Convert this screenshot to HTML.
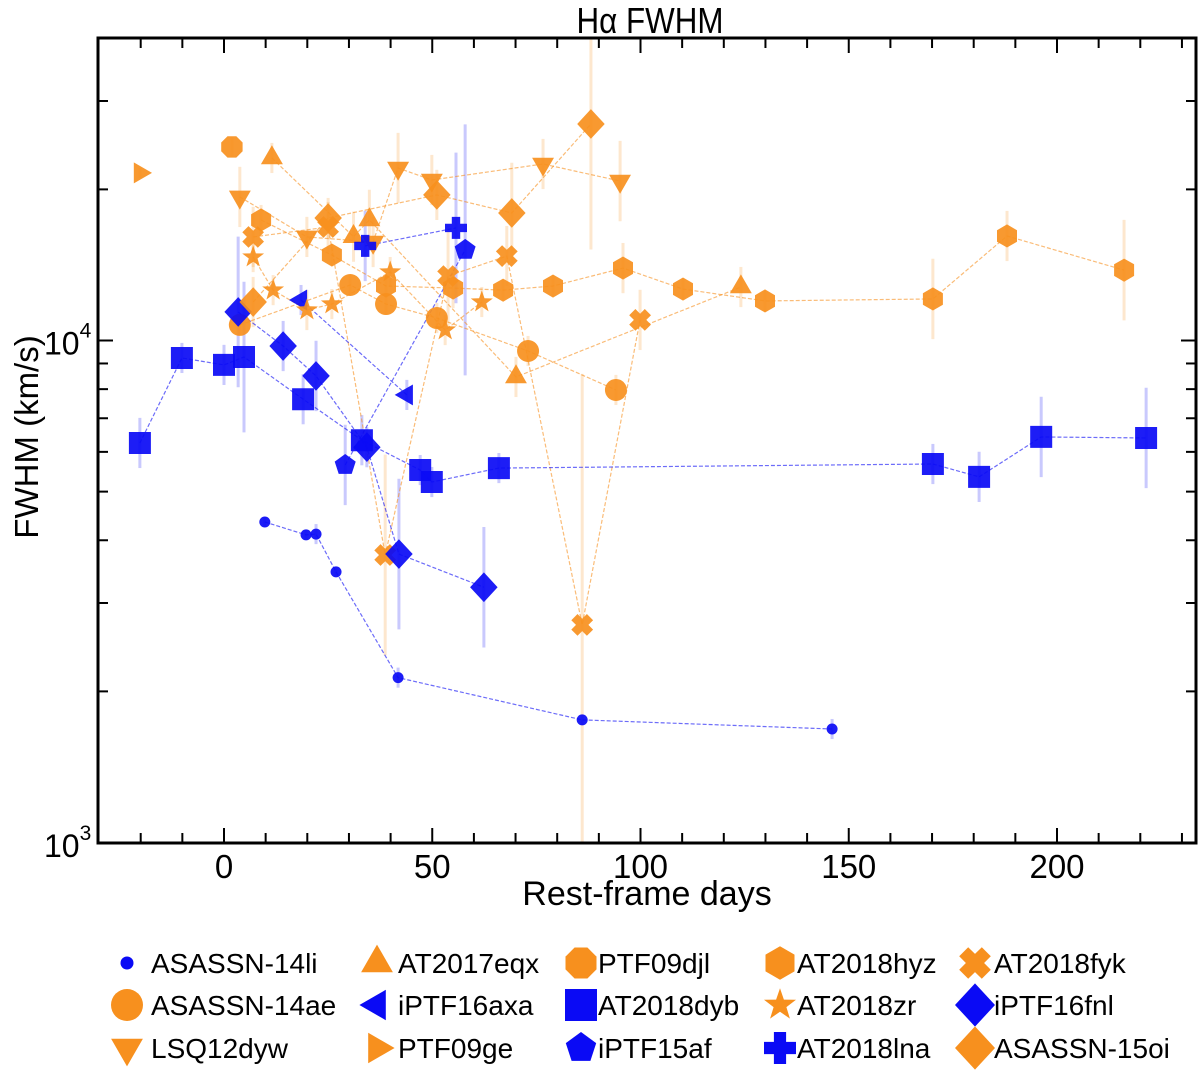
<!DOCTYPE html>
<html><head><meta charset="utf-8"><style>
html,body{margin:0;padding:0;background:#fff;}
svg{display:block;font-family:"Liberation Sans",Arial,sans-serif;}
</style></head><body>
<svg id="chart" width="1200" height="1081" viewBox="0 0 1200 1081" xmlns="http://www.w3.org/2000/svg">
<g id="errs"></g>
<g id="lines"></g>
<g id="marks"></g>
<g id="axes"></g>
<g id="legend"></g>
<text x="650" y="30" font-size="33" text-anchor="middle" transform="translate(650,0) scale(0.95,1.1) translate(-650,0)">Hα FWHM</text>
<text x="647" y="905" font-size="34" text-anchor="middle">Rest-frame days</text>
<text transform="translate(38,437) rotate(-90)" font-size="33" text-anchor="middle">FWHM (km/s)</text>
</svg>
<script>
const names = ["ASASSN-14li","AT2017eqx","PTF09djl","AT2018hyz","AT2018fyk","ASASSN-14ae","iPTF16axa","AT2018dyb","AT2018zr","iPTF16fnl","LSQ12dyw","PTF09ge","iPTF15af","AT2018lna","ASASSN-15oi"];
const colors = ["b","o","o","o","o","o","b","b","o","b","o","o","b","b","o"];
const shapes = ["dot","tri","oct","hex","x","circ","ltri","sq","star","dia","dtri","rtri","pent","plus","dia"];
const days = [
 [9.8,19.7,22.1,26.9,41.8,86,146],
 [11.5,31.1,34.9,70.1,124.1],
 [1.9],
 [8.9,25.9,38.9,55.0,67.0,79.0,95.8,110.2,129.9,170.2,188.0,216.1],
 [7.0,25.0,38.7,53.8,67.9,86.0,99.9],
 [3.8,30.3,38.9,51.1,73.0,94.1],
 [18.5,43.9],
 [-20.2,-10.1,0,4.8,19.0,33.1,47.1,49.9,66.0,170.2,181.3,196.2,221.4],
 [7.0,11.8,19.9,25.9,39.9,53.1,61.9],
 [3.4,14.2,22.1,34.3,42.0,62.4],
 [3.8,19.9,35.8,41.8,49.9,76.6,95.1],
 [-20.2],
 [29.1,57.9],
 [33.9,55.7],
 [7.0,25.0,51.1,69.1,88.1]
];
const fwhm = [
 [4350,4100,4115,3460,2130,1755,1683],
 [23100,16100,17390,8460,12780],
 [24300],
 [17380,14800,12840,12720,12600,12840,13940,12660,11990,12100,16150,13810],
 [16080,16830,3738,13440,14730,2713,10990],
 [10740,12900,11820,11085,9530,7970],
 [12040,7790],
 [6250,9230,8940,9270,7640,6330,5520,5225,5570,5675,5350,6425,6395],
 [14660,12600,11500,11820,13690,10490,11930],
 [11400,9750,8500,6130,3755,3225],
 [19320,16080,15710,22060,20880,22470,20780],
 [21570],
 [5650,15150],
 [15430,16760],
 [11930,17540,19500,17950,27000]
];
// symmetric errors in dex
const errDex = [
 [0.01,0.01,0.02,0.01,0.02,0.01,0.02],
 [0.03,0.05,0.06,0.04,0.04],
 [0.02],
 [0.03,0.02,0.02,0.04,0.02,0.02,0.05,0.02,0.02,0.08,0.05,0.1],
 [0.06,0.05,0.2,0.1,0.06,0.5,0.06],
 [0.02,0.02,0.02,0.03,0.03,0.03],
 [0.03,0.03],
 [0.05,0.03,0.04,0.15,0.05,0.05,0.03,0.03,0.03,0.04,0.05,0.08,0.1],
 [0.03,0.03,0.04,0.03,0.03,0.03,0.03],
 [0.15,0.05,0.07,0.04,0.15,0.12],
 [0.06,0.04,0.05,0.07,0.05,0.05,0.08],
 [0.01],
 [0.08,0.25],
 [0.07,0.15],
 [0.05,0.04,0.05,0.1,0.25]
];
const xTicks = [0,50,100,150,200];
const COL = {b:"#0a0af5", o:"#f7901e"};
const X0=224, XS=4.165, Y4=340.5, DEC=502;
function sx(d){return X0+XS*d;}
function sy(v){return Y4-(Math.log10(v)-4)*DEC;}
const NS="http://www.w3.org/2000/svg";
function el(tag,attrs,parent){const e=document.createElementNS(NS,tag);for(const k in attrs)e.setAttribute(k,attrs[k]);parent.appendChild(e);return e;}
function markerPath(shape,x,y,r){
  const p=(pts)=>"M"+pts.map(q=>q[0].toFixed(1)+","+q[1].toFixed(1)).join("L")+"Z";
  const poly=(n,rot,rr)=>{const a=[];for(let i=0;i<n;i++){const t=rot+i*2*Math.PI/n;a.push([x+rr*Math.cos(t),y+rr*Math.sin(t)]);}return p(a);};
  switch(shape){
    case "tri": return poly(3,-Math.PI/2,r*1.15);
    case "dtri": return poly(3,Math.PI/2,r*1.15);
    case "ltri": return poly(3,Math.PI,r*1.1);
    case "rtri": return poly(3,0,r*1.1);
    case "sq": return p([[x-r,y-r],[x+r,y-r],[x+r,y+r],[x-r,y+r]]);
    case "dia": return p([[x,y-r*1.35],[x+r*1.25,y],[x,y+r*1.35],[x-r*1.25,y]]);
    case "hex": return poly(6,-Math.PI/2,r*1.05);
    case "oct": return poly(8,Math.PI/8,r*1.05);
    case "pent": return poly(5,-Math.PI/2,r);
    case "star": {const a=[];for(let i=0;i<10;i++){const t=-Math.PI/2+i*Math.PI/5;const rr=i%2?r*0.42:r*1.05;a.push([x+rr*Math.cos(t),y+rr*Math.sin(t)]);}return p(a);}
    case "plus": {const w=r*0.38;return p([[x-w,y-r],[x+w,y-r],[x+w,y-w],[x+r,y-w],[x+r,y+w],[x+w,y+w],[x+w,y+r],[x-w,y+r],[x-w,y+w],[x-r,y+w],[x-r,y-w],[x-w,y-w]]);}
    case "x": {const w=r*0.4;const base=[[-w,-r],[w,-r],[w,-w],[r,-w],[r,w],[w,w],[w,r],[-w,r],[-w,w],[-r,w],[-r,-w],[-w,-w]];const c=Math.SQRT1_2;return p(base.map(q=>[x+(q[0]-q[1])*c,y+(q[0]+q[1])*c]));}
    default: return null;
  }
}
function drawMarker(parent,shape,x,y,r,fill){
  let m;
  if(shape==="dot"||shape==="circ"){m=el("circle",{cx:x,cy:y,r:shape==="dot"?r*0.5:r,fill:fill},parent);}
  else m=el("path",{d:markerPath(shape,x,y,r),fill:fill},parent);
  return m;
}
const errs=document.getElementById("errs"),lines=document.getElementById("lines"),marks=document.getElementById("marks");
for(let s=0;s<names.length;s++){
  const c=COL[colors[s]];
  const pts=days[s].map((d,i)=>[sx(d),sy(fwhm[s][i])]);
  days[s].forEach((d,i)=>{
    const lv=Math.log10(fwhm[s][i]);
    const y1=Math.min(843,sy(Math.pow(10,lv-errDex[s][i]))), y2=Math.max(38,sy(Math.pow(10,lv+errDex[s][i])));
    const e=el("line",{x1:sx(d),x2:sx(d),y1:y1,y2:y2,stroke:c,"stroke-opacity":0.22,"stroke-width":3},errs);
    
    
  });
  if(pts.length>1){
    const l=el("polyline",{points:pts.map(q=>q.join(",")).join(" "),fill:"none",stroke:c,"stroke-opacity":0.6,"stroke-width":1.2,"stroke-dasharray":"4,2"},lines);
    
    
  }
  pts.forEach(q=>{
    const m=drawMarker(marks,shapes[s],q[0],q[1],11,c);
    m.setAttribute("fill-opacity","0.92");
    
    
  });
}
// axes
const ax=document.getElementById("axes");
el("rect",{x:98,y:38,width:1098,height:805,fill:"none",stroke:"#000","stroke-width":3},ax);
for(let d=-20;d<=230;d+=10){
  const x=sx(d),len=(d%50===0)?15:10;
  el("line",{x1:x,x2:x,y1:843,y2:843-len,stroke:"#000","stroke-width":2},ax);
  el("line",{x1:x,x2:x,y1:38,y2:38+len,stroke:"#000","stroke-width":2},ax);
}
xTicks.forEach(d=>{
  const t=el("text",{x:sx(d),y:878,"font-size":33,"text-anchor":"middle"},ax);t.textContent=d;
  
  
});
[2000,3000,4000,5000,6000,7000,8000,9000,10000,20000,30000,40000].forEach(v=>{
  const y=sy(v),len=(v===10000)?15:10;
  el("line",{x1:98,x2:98+len,y1:y,y2:y,stroke:"#000","stroke-width":2},ax);
  el("line",{x1:1196,x2:1196-len,y1:y,y2:y,stroke:"#000","stroke-width":2},ax);
});
[[4,sy(10000)],[3,843]].forEach(([p,y])=>{
  const t=el("text",{x:44,y:y+14,"font-size":32},ax);
  
  
  t.textContent="10";
  const s=el("tspan",{dy:-17,"font-size":21},t);s.textContent=p;
});
// legend
const lg=document.getElementById("legend");
const lx=[127,377,581,780,975], tx=[151,398,598,797,994], ly=[963,1005,1048];
names.forEach((n,i)=>{
  const col=i%5,row=Math.floor(i/5);
  const g=el("g",{},lg);
  
  
  const r=shapes[i]==="dot"?13:16;
  drawMarker(g,shapes[i],lx[col],ly[row],r,COL[colors[i]]);
  const t=el("text",{x:tx[col],y:ly[row]+10,"font-size":28},g);t.textContent=n;
});
</script>
</body></html>
